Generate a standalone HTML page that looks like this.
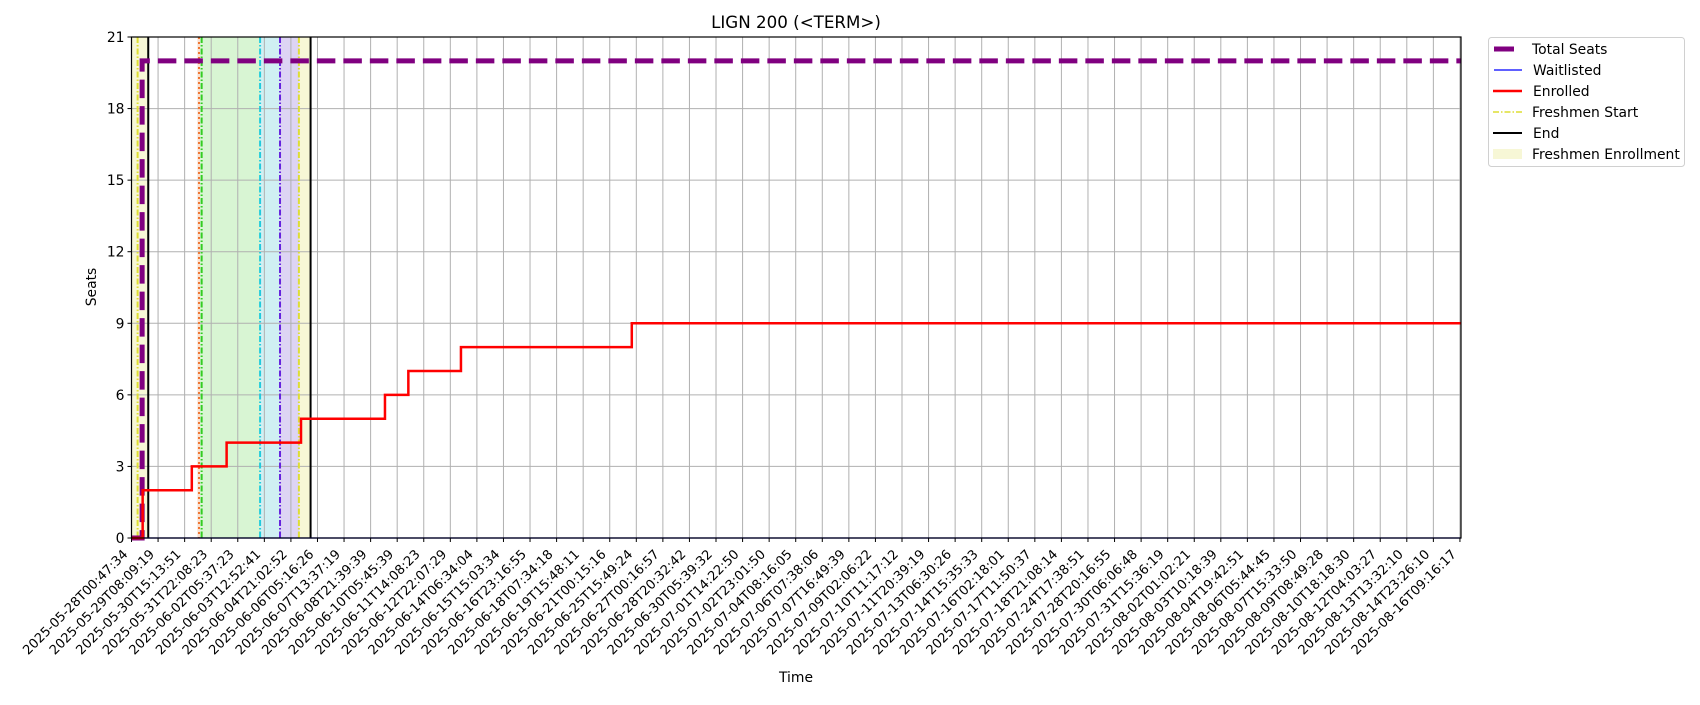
<!DOCTYPE html>
<html><head><meta charset="utf-8"><style>
body{margin:0;background:#fff;}
svg text{font-family:"DejaVu Sans","Liberation Sans",sans-serif;fill:#000;}
</style></head><body>
<svg id="chart" width="1700" height="700" xmlns="http://www.w3.org/2000/svg"></svg>
<script>
const tickLabels=["2025-05-28T00:47:34","2025-05-29T08:09:19","2025-05-30T15:13:51","2025-05-31T22:08:23","2025-06-02T05:37:23","2025-06-03T12:52:41","2025-06-04T21:02:52","2025-06-06T05:16:26","2025-06-07T13:37:19","2025-06-08T21:39:39","2025-06-10T05:45:39","2025-06-11T14:08:23","2025-06-12T22:07:29","2025-06-14T06:34:04","2025-06-15T15:03:34","2025-06-16T23:16:55","2025-06-18T07:34:18","2025-06-19T15:48:11","2025-06-21T00:15:16","2025-06-25T15:49:24","2025-06-27T00:16:57","2025-06-28T20:32:42","2025-06-30T05:39:32","2025-07-01T14:22:50","2025-07-02T23:01:50","2025-07-04T08:16:05","2025-07-06T07:38:06","2025-07-07T16:49:39","2025-07-09T02:06:22","2025-07-10T11:17:12","2025-07-11T20:39:19","2025-07-13T06:30:26","2025-07-14T15:35:33","2025-07-16T02:18:01","2025-07-17T11:50:37","2025-07-18T21:08:14","2025-07-24T17:38:51","2025-07-28T20:16:55","2025-07-30T06:06:48","2025-07-31T15:36:19","2025-08-02T01:02:21","2025-08-03T10:18:39","2025-08-04T19:42:51","2025-08-06T05:44:45","2025-08-07T15:33:50","2025-08-09T08:49:28","2025-08-10T18:18:30","2025-08-12T04:03:27","2025-08-13T13:32:10","2025-08-14T23:26:10","2025-08-16T09:16:17"];
const yTicks=[0,3,6,9,12,15,18,21];
const enrolledX=[0,0.42,2.27,3.58,6.38,9.54,10.42,12.40,18.83];
const enrolledY=[0,2,3,4,5,6,7,8,9];
const seatsX=[0,0.4];
const seatsY=[0,20];
const waitX=[0];
const waitY=[0];
const spanStart=[0.02,2.48,2.58,4.84,5.59,6.32];
const spanEnd=[0.63,2.58,4.84,5.59,6.32,6.74];
const spanColor=["#f7f7d6","#fbe0d0","#d8f5d3","#d0f0f3","#ddd4f4","#f7f7d6"];
const vlineX=[0.23,0.63,2.54,2.64,4.84,5.59,6.30,6.74];
const vlineColor=["#dede33","#000","#ee7733","#33cc22","#22ccdd","#6622dd","#dede33","#000"];
const vlineDash=["6,2,1.5,2","","2,3","6,2,1.5,2","6,2,1.5,2","6,2,1.5,2","6,2,1.5,2",""];
const X_MAX=50.04, Y_MAX=21;
const L=131.5,R=1461,T=37,B=538;
const xs=i=>L+i*(R-L)/X_MAX;
const ys=v=>B-v*(B-T)/Y_MAX;
const svg=document.getElementById('chart');
const NS="http://www.w3.org/2000/svg";
function mk(tag,attrs,parent){const e=document.createElementNS(NS,tag);for(const k in attrs)e.setAttribute(k,attrs[k]);(parent||svg).appendChild(e);return e;}
function stepPath(xa,ya){let d=`M${xs(xa[0])},${ys(ya[0])}`;for(let i=1;i<xa.length;i++){d+=`H${xs(xa[i])}V${ys(ya[i])}`;}d+=`H${xs(X_MAX)}`;return d;}
spanStart.forEach((s,i)=>{const r=mk('rect',{x:xs(s),y:T,width:xs(spanEnd[i])-xs(s),height:B-T,fill:spanColor[i]});

});
tickLabels.forEach((t,i)=>{const g=mk('line',{x1:xs(i),x2:xs(i),y1:T,y2:B,stroke:'#b0b0b0','stroke-width':1});

});
yTicks.forEach(v=>{const g=mk('line',{x1:L,x2:R,y1:ys(v),y2:ys(v),stroke:'#b0b0b0','stroke-width':1});

});
vlineX.forEach((x,i)=>{const a={x1:xs(x),x2:xs(x),y1:T,y2:B,stroke:vlineColor[i],'stroke-width':2};if(vlineDash[i])a['stroke-dasharray']=vlineDash[i];const l=mk('line',a);

});
const ts=mk('path',{d:stepPath(seatsX,seatsY),fill:'none',stroke:'#800080','stroke-width':5,'stroke-dasharray':'18.5,8'});


const wl=mk('path',{d:stepPath(waitX,waitY),fill:'none',stroke:'#0000ff','stroke-width':1.2});


const en=mk('path',{d:stepPath(enrolledX,enrolledY),fill:'none',stroke:'#ff0000','stroke-width':2.5});


const fr=mk('rect',{x:L,y:T,width:R-L,height:B-T,fill:'none',stroke:'#000','stroke-width':1.2});


tickLabels.forEach((t,i)=>{mk('line',{x1:xs(i),x2:xs(i),y1:B,y2:B+4,stroke:'#000'});
const ax=xs(i)-3, ay=B+17;
const tx=mk('text',{x:ax,y:ay,'font-size':13,'text-anchor':'end',transform:`rotate(-45 ${ax} ${ay})`});tx.textContent=t;

});
yTicks.forEach(v=>{mk('line',{x1:L-4,x2:L,y1:ys(v),y2:ys(v),stroke:'#000'});
const tx=mk('text',{x:L-7,y:ys(v)+5,'font-size':13.9,'text-anchor':'end'});tx.textContent=v;

});
</script>
<svg width="1700" height="700" style="position:absolute;left:0;top:0" xmlns="http://www.w3.org/2000/svg">
<text x="796" y="28" font-size="16.7" text-anchor="middle">LIGN 200 (&lt;TERM&gt;)</text>
<text x="96" y="287" font-size="13.9" text-anchor="middle" transform="rotate(-90 96 287)">Seats</text>
<text x="796" y="682" font-size="13.9" text-anchor="middle">Time</text>
<g>
<rect x="1488.5" y="37.5" width="196" height="129" rx="3" fill="#fff" stroke="#d0d0d0"/>
<g><line x1="1494" x2="1514" y1="49" y2="49" stroke="#800080" stroke-width="5"/><text x="1532" y="54" font-size="13.9">Total Seats</text></g>
<g><line x1="1494" x2="1522" y1="70" y2="70" stroke="#0000ff" stroke-width="1.2"/><text x="1533" y="75" font-size="13.9">Waitlisted</text></g>
<g><line x1="1493" x2="1522" y1="91" y2="91" stroke="#ff0000" stroke-width="2.5"/><text x="1533" y="96" font-size="13.9">Enrolled</text></g>
<g><line x1="1493" x2="1522" y1="112" y2="112" stroke="#dede33" stroke-width="1.5" stroke-dasharray="6,2,1.5,2"/><text x="1532" y="117" font-size="13.9">Freshmen Start</text></g>
<g><line x1="1493" x2="1522" y1="133" y2="133" stroke="#000" stroke-width="2"/><text x="1533" y="138" font-size="13.9">End</text></g>
<g><rect x="1493" y="149" width="29" height="10" fill="#f7f7d6"/><text x="1532" y="159" font-size="13.9">Freshmen Enrollment</text></g>
</g>
</svg>
</body></html>
